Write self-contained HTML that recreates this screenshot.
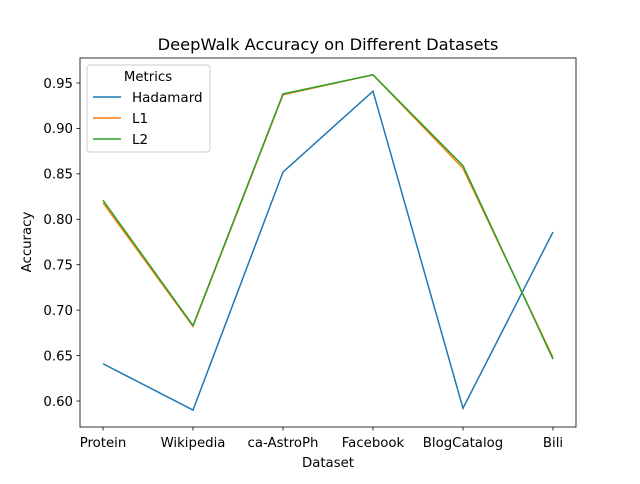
<!DOCTYPE html>
<html><head><meta charset="utf-8"><style>
body{margin:0;background:#fff;font-family:"DejaVu Sans","Liberation Sans",sans-serif;}
</style></head><body>
<svg id="chart" width="640" height="480" xmlns="http://www.w3.org/2000/svg" font-family="DejaVu Sans, Liberation Sans, sans-serif">
<rect width="640" height="480" fill="#fff"/>
<text x="328" y="50" font-size="16.3" text-anchor="middle">DeepWalk Accuracy on Different Datasets</text>
<g id="plot"></g>
<rect x="80" y="58" width="496" height="369" fill="none" stroke="#000" stroke-width="0.8"/>
<text x="328" y="467" font-size="13.3" text-anchor="middle">Dataset</text>
<text transform="translate(31,242) rotate(-90)" font-size="13.3" text-anchor="middle">Accuracy</text>
<g>
<rect x="87" y="65" width="123" height="87" rx="3" fill="#fff" fill-opacity="0.8" stroke="#ccc"/>
<text x="148" y="81" font-size="13.3" text-anchor="middle">Metrics</text>
<g id="legend-items"></g>
</g>
</svg>
<script>
const categories=["Protein","Wikipedia","ca-AstroPh","Facebook","BlogCatalog","Bili"];
const seriesNames=["Hadamard","L1","L2"];
const hadamard=[0.641,0.590,0.852,0.941,0.592,0.786];
const l1=[0.818,0.682,0.937,0.959,0.856,0.648];
const l2=[0.821,0.683,0.938,0.959,0.859,0.646];
const yTicks=[0.60,0.65,0.70,0.75,0.80,0.85,0.90,0.95];
const colors=["#1f77b4","#ff7f0e","#2ca02c"];
const NS="http://www.w3.org/2000/svg";
const plot=document.getElementById('plot');
const xs=i=>103+i*(553-103)/(categories.length-1);
const ys=v=>401-(v-0.60)*(401-83)/0.35;
function mk(tag,attrs,parent){const e=document.createElementNS(NS,tag);for(const k in attrs)e.setAttribute(k,attrs[k]);parent.appendChild(e);return e;}
categories.forEach((c,i)=>{
  const t=mk('line',{x1:xs(i),x2:xs(i),y1:427,y2:430.5,stroke:'#000','stroke-width':0.8},plot);
  
  
  const l=mk('text',{x:xs(i),y:447,'font-size':13.3,'text-anchor':'middle'},plot);
  l.textContent=c;
  
  
});
yTicks.forEach(v=>{
  const t=mk('line',{x1:76.5,x2:80,y1:ys(v),y2:ys(v),stroke:'#000','stroke-width':0.8},plot);
  
  
  const l=mk('text',{x:73,y:ys(v)+4.8,'font-size':13.3,'text-anchor':'end'},plot);
  l.textContent=v.toFixed(2);
  
  
});
[hadamard,l1,l2].forEach((s,k)=>{
  const p=mk('polyline',{points:s.map((v,i)=>xs(i)+','+ys(v)).join(' '),fill:'none',stroke:colors[k],'stroke-width':1.5},plot);
  
  
});
const li=document.getElementById('legend-items');
seriesNames.forEach((n,k)=>{
  const y=97+k*21;
  const ln=mk('line',{x1:93,x2:121,y1:y,y2:y,stroke:colors[k],'stroke-width':1.5},li);
  
  
  const t=mk('text',{x:132,y:y+4.8,'font-size':13.5},li);
  t.textContent=n;
  
  
});
</script>
</body></html>
